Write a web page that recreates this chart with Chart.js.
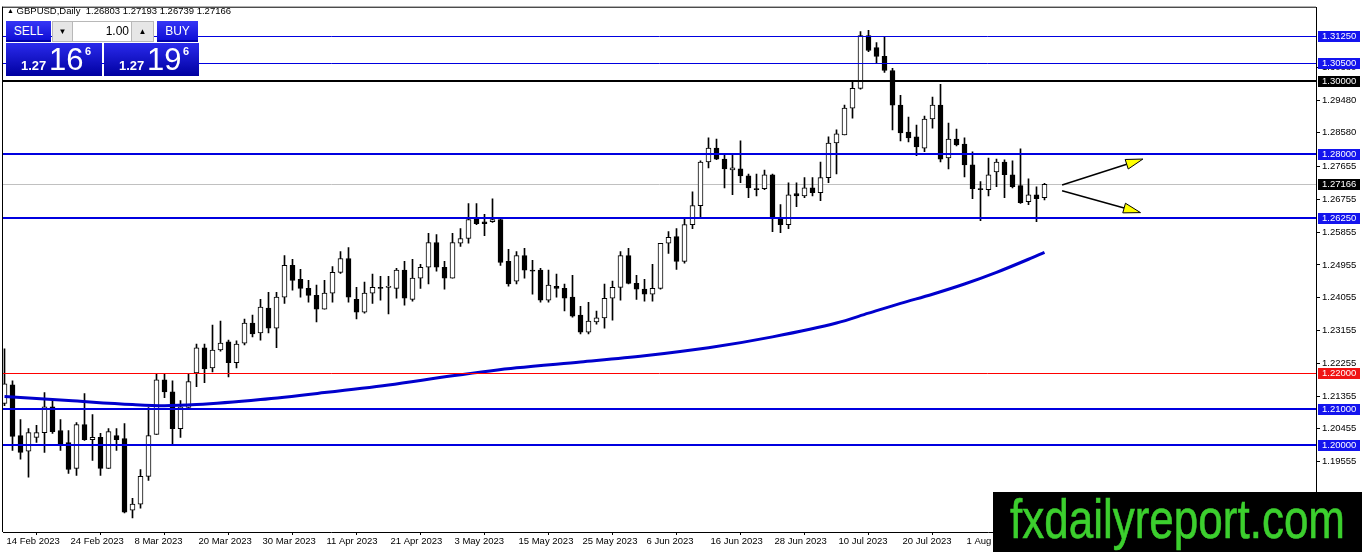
<!DOCTYPE html>
<html>
<head>
<meta charset="utf-8">
<title>GBPUSD,Daily</title>
<script src="https://cdn.jsdelivr.net/npm/chart.js@4.4.0/dist/chart.umd.min.js"></script>
<style>
  html, body { margin: 0; padding: 0; background: #fff; }
  #wrap { position: relative; width: 1362px; height: 552px; overflow: hidden;
          font-family: "Liberation Sans", Arial, sans-serif; }
  #c { position: absolute; left: 0; top: 0; }
  #hdr { position: absolute; left: 7px; top: 5px; font-size: 9.5px; line-height: 12px; color: #000; white-space: pre; }
  #hdr .tri { font-size: 7px; vertical-align: 1px; }
  .btn { position: absolute; top: 21px; height: 21px; line-height: 20px; text-align: center;
         color: #fff; font-size: 12px; background: linear-gradient(#3636f6, #0b0bd2);
         box-shadow: inset 0 -2px 0 #0000a8; }
  #sell { left: 6px; width: 45px; }
  #buy { left: 157px; width: 41px; }
  #lot { position: absolute; left: 52px; top: 21px; width: 102px; height: 21px; background: #b8b8b8; }
  #lot div { position: absolute; top: 1px; height: 19px; line-height: 19px; font-size: 12px; color: #000; }
  #dn { left: 1px; width: 19px; background: #e6e6e6; text-align: center; font-size: 8px !important; }
  #val { left: 21px; width: 56px; background: #fff; text-align: right; padding-right: 2px; }
  #up { left: 80px; width: 21px; background: #e6e6e6; text-align: center; font-size: 8px !important; }
  .px { position: absolute; top: 43px; height: 33px; color: #fff;
        background: linear-gradient(#2a2aec, #0000a0); }
  #sellpx { left: 6px; width: 96px; }
  #buypx { left: 104px; width: 95px; }
  .px span { position: absolute; line-height: 1; white-space: pre; }
  .px .sm { left: 15px; top: 16px; font-size: 13px; font-weight: bold; }
  .px .big { left: 43px; top: 1px; font-size: 31px; }
  .px .sup { left: 79px; top: 3px; font-size: 11px; font-weight: bold; }
  #logo { position: absolute; left: 993px; top: 492px; width: 369px; height: 60px; background: #000; overflow: hidden; }
  #logo span { position: absolute; left: 17px; top: 0; font-size: 55px; line-height: 1; color: #3ccf2e;
               -webkit-text-stroke: 0.6px #3ccf2e;
               transform: scaleX(0.8); transform-origin: 0 0; white-space: pre; }
</style>
</head>
<body>
<div id="wrap">
  <canvas id="c" width="1362" height="552"></canvas>
  <div id="hdr"></div>
  <div class="btn" id="sell">SELL</div>
  <div id="lot"><div id="dn">▼</div><div id="val">1.00</div><div id="up">▲</div></div>
  <div class="btn" id="buy">BUY</div>
  <div class="px" id="sellpx"><span class="sm"></span><span class="big"></span><span class="sup"></span></div>
  <div class="px" id="buypx"><span class="sm"></span><span class="big"></span><span class="sup"></span></div>
  <div id="logo"><span>fxdailyreport.com</span></div>
</div>
<script>
// daily candles, 14 Feb 2023 .. 15 Aug 2023
const opens = [
  1.2115, 1.2166, 1.2027, 1.1984, 1.2022, 1.2035, 1.2106, 1.2041, 1.2008, 1.1937,
  1.2057, 1.2016, 1.2022, 1.1937, 1.2027, 1.2019, 1.1822, 1.1839, 1.1915, 1.2030,
  1.2180, 1.2147, 1.2046, 1.2104, 1.2199, 1.2268, 1.2213, 1.2262, 1.2284, 1.2227,
  1.2281, 1.2336, 1.2309, 1.2377, 1.2322, 1.2407, 1.2494, 1.2456, 1.2431, 1.2412,
  1.2374, 1.2418, 1.2475, 1.2513, 1.2401, 1.2366, 1.2418, 1.2434, 1.2434, 1.2431,
  1.2481, 1.2401, 1.2459, 1.2489, 1.2557, 1.2489, 1.2459, 1.2555, 1.2568, 1.2625,
  1.2614, 1.2614, 1.2620, 1.2505, 1.2451, 1.2521, 1.2481, 1.2481, 1.2399, 1.2437,
  1.2431, 1.2407, 1.2358, 1.2311, 1.2339, 1.2350, 1.2404, 1.2434, 1.2521, 1.2445,
  1.2429, 1.2415, 1.2431, 1.2555, 1.2573, 1.2505, 1.2606, 1.2658, 1.2778, 1.2816,
  1.2786, 1.2756, 1.2759, 1.2740, 1.2705, 1.2705, 1.2743, 1.2625, 1.2606, 1.2691,
  1.2685, 1.2707, 1.2694, 1.2735, 1.2830, 1.2852, 1.2926, 1.2980, 1.3125, 1.3092,
  1.3068, 1.3029, 1.2934, 1.2860, 1.2847, 1.2816, 1.2896, 1.2934, 1.2789, 1.2841,
  1.2827, 1.2770, 1.2705, 1.2702, 1.2751, 1.2778, 1.2743, 1.2713, 1.2669, 1.2688,
  1.26803
];
const highs = [
  1.2265, 1.2177, 1.2071, 1.2046, 1.2055, 1.2145, 1.2126, 1.2071, 1.2041, 1.2063,
  1.2142, 1.2085, 1.2033, 1.2046, 1.2046, 1.2060, 1.1855, 1.1934, 1.2104, 1.2197,
  1.2197, 1.2177, 1.2123, 1.2197, 1.2278, 1.2278, 1.2330, 1.2341, 1.2289, 1.2287,
  1.2347, 1.2358, 1.2401, 1.2420, 1.2420, 1.2521, 1.2511, 1.2483, 1.2453, 1.2440,
  1.2453, 1.2491, 1.2532, 1.2543, 1.2434, 1.2448, 1.2470, 1.2464, 1.2464, 1.2486,
  1.2505, 1.2511, 1.2497, 1.2582, 1.2579, 1.2505, 1.2582, 1.2595, 1.2664, 1.2664,
  1.2634, 1.2677, 1.2623, 1.2538, 1.2532, 1.2541, 1.2508, 1.2486, 1.2481, 1.2470,
  1.2443, 1.2467, 1.2382, 1.2393, 1.2369, 1.2443, 1.2451, 1.2532, 1.2541, 1.2467,
  1.2456, 1.2497, 1.2555, 1.2587, 1.2595, 1.2623, 1.2696, 1.2781, 1.2844, 1.2841,
  1.2800, 1.2797, 1.2836, 1.2745, 1.2745, 1.2756, 1.2745, 1.2661, 1.2721, 1.2721,
  1.2735, 1.2735, 1.2778, 1.2847, 1.2866, 1.2934, 1.2997, 1.3136, 1.3139, 1.3106,
  1.3120, 1.3035, 1.2961, 1.2901, 1.2879, 1.2904, 1.2956, 1.2991, 1.2885, 1.2868,
  1.2844, 1.2806, 1.2724, 1.2789, 1.2786, 1.2784, 1.2781, 1.2814, 1.2732, 1.2710,
  1.27193
];
const lows = [
  1.2109, 1.1986, 1.1962, 1.1913, 1.2008, 1.1981, 1.2033, 1.1986, 1.1923, 1.1918,
  1.2014, 1.1959, 1.1918, 1.1937, 1.1986, 1.1815, 1.1801, 1.1828, 1.1904, 1.2030,
  1.2131, 1.2005, 1.2022, 1.2104, 1.2161, 1.2172, 1.2202, 1.2259, 1.2188, 1.2213,
  1.2276, 1.2298, 1.2289, 1.2309, 1.2268, 1.2390, 1.2426, 1.2407, 1.2393, 1.2339,
  1.2374, 1.2393, 1.2472, 1.2393, 1.2347, 1.2363, 1.2390, 1.2399, 1.2361, 1.2404,
  1.2385, 1.2396, 1.2431, 1.2443, 1.2478, 1.2429, 1.2459, 1.2546, 1.2555, 1.2606,
  1.2576, 1.2612, 1.2494, 1.2437, 1.2443, 1.2459, 1.2415, 1.2393, 1.2393, 1.2407,
  1.2369, 1.2352, 1.2306, 1.2306, 1.2333, 1.2322, 1.2344, 1.2399, 1.2443, 1.2401,
  1.2396, 1.2396, 1.2429, 1.2527, 1.2483, 1.2500, 1.2595, 1.2623, 1.2762, 1.2784,
  1.2707, 1.2688, 1.2721, 1.2680, 1.2685, 1.2702, 1.2587, 1.2584, 1.2595, 1.2655,
  1.2680, 1.2685, 1.2672, 1.2721, 1.2745, 1.2852, 1.2898, 1.2978, 1.3081, 1.3049,
  1.3024, 1.2866, 1.2836, 1.2833, 1.2795, 1.2806, 1.2871, 1.2778, 1.2759, 1.2822,
  1.2737, 1.2677, 1.2617, 1.2685, 1.2710, 1.2680, 1.2707, 1.2664, 1.2661, 1.2614,
  1.26739
];
const closes = [
  1.2169, 1.2025, 1.1981, 1.2035, 1.2035, 1.2106, 1.2038, 1.2005, 1.1934, 1.2057,
  1.2016, 1.2022, 1.1937, 1.2038, 1.2016, 1.1817, 1.1839, 1.1915, 1.2027, 1.2180,
  1.2147, 1.2046, 1.2106, 1.2175, 1.2268, 1.2210, 1.2262, 1.2281, 1.2227, 1.2278,
  1.2336, 1.2306, 1.2380, 1.2322, 1.2407, 1.2494, 1.2453, 1.2431, 1.2412, 1.2374,
  1.2418, 1.2475, 1.2513, 1.2407, 1.2366, 1.2418, 1.2434, 1.2431, 1.2437, 1.2481,
  1.2404, 1.2459, 1.2489, 1.2557, 1.2489, 1.2459, 1.2557, 1.2568, 1.2620, 1.2609,
  1.2609, 1.2620, 1.2502, 1.2443, 1.2521, 1.2481, 1.2478, 1.2399, 1.2440, 1.2431,
  1.2404, 1.2355, 1.2311, 1.2341, 1.2350, 1.2404, 1.2434, 1.2521, 1.2445, 1.2429,
  1.2415, 1.2431, 1.2555, 1.2571, 1.2505, 1.2606, 1.2658, 1.2778, 1.2816, 1.2786,
  1.2759, 1.2762, 1.2740, 1.2707, 1.2702, 1.2743, 1.2625, 1.2606, 1.2688, 1.2685,
  1.2707, 1.2694, 1.2735, 1.2830, 1.2855, 1.2926, 1.2980, 1.3125, 1.3084, 1.3068,
  1.3029, 1.2934, 1.2858, 1.2844, 1.2819, 1.2896, 1.2934, 1.2786, 1.2841, 1.2825,
  1.2770, 1.2705, 1.2702, 1.2743, 1.2778, 1.2743, 1.2710, 1.2666, 1.2688, 1.2677,
  1.27166
];

// moving average, read at every 4th-8th bar
const maIndex = [0, 8, 16, 20, 24, 32, 40, 48, 56, 64, 72, 80, 88, 96, 104, 108, 112, 116, 120, 124, 128, 130];
const maValues = [1.2134, 1.2123, 1.2112, 1.2109, 1.2112, 1.2126, 1.2145, 1.2166, 1.2191, 1.2213, 1.2229,
                  1.2246, 1.2268, 1.2298, 1.2336, 1.2363, 1.2390, 1.2415, 1.2443, 1.2475, 1.2511, 1.2530];

// date labels, one every 8 bars
const labelStep = 8;
const dateLabels = ["14 Feb 2023", "24 Feb 2023", "8 Mar 2023", "20 Mar 2023", "30 Mar 2023", "11 Apr 2023",
                    "21 Apr 2023", "3 May 2023", "15 May 2023", "25 May 2023", "6 Jun 2023", "16 Jun 2023",
                    "28 Jun 2023", "10 Jul 2023", "20 Jul 2023", "1 Aug 2023", "11 Aug 2023"];

// price scale labels
const priceTicks = [1.30380, 1.29480, 1.28580, 1.27655, 1.26755, 1.25855, 1.24955, 1.24055,
                    1.23155, 1.22255, 1.21355, 1.20455, 1.19555];

// horizontal levels drawn on the chart
const levelPrices = [1.3125, 1.3050, 1.3000, 1.2800, 1.2625, 1.2200, 1.2100, 1.2000];
const levelColors = ['#0000e0', '#0000e0', '#000000', '#0000e0', '#0000e0', '#ff0000', '#0000e0', '#0000e0'];
const levelBoxColors = ['#1414ee', '#1414ee', '#000000', '#1414ee', '#1414ee', '#f01414', '#1414ee', '#1414ee'];
const levelWidths = [1, 1, 2, 2, 2, 1, 2, 2];

// the two scenario arrows: [bar from, price from, bar to, price to]
const arrowUp = [132.2, 1.2715, 142.3, 1.2786];
const arrowDown = [132.2, 1.2699, 142.0, 1.2639];

const spread = 0.0003;
const bid = closes[closes.length - 1];
const ask = bid + spread;

// header and trade panel texts
const last = closes.length - 1;
document.getElementById('hdr').innerHTML = '<span class="tri">▲</span> GBPUSD,Daily  ' +
  [opens[last], highs[last], lows[last], closes[last]].map(v => v.toFixed(5)).join(' ');
function fillPrice(id, p) {
  const s = p.toFixed(5);
  const el = document.getElementById(id);
  el.querySelector('.sm').textContent = s.slice(0, 4);
  el.querySelector('.big').textContent = s.slice(4, 6);
  el.querySelector('.sup').textContent = s.slice(6);
}
fillPrice('sellpx', bid);
fillPrice('buypx', ask);

const FONT = { family: '"Liberation Sans", Arial, sans-serif', size: 9.5 };

const wicks = opens.map((o, i) => ({ x: i, y: [lows[i], highs[i]] }));
const bodies = opens.map((o, i) => ({ x: i, y: [Math.min(o, closes[i]), Math.max(o, closes[i])] }));
const maLine = maIndex.map((x, k) => ({ x: x, y: maValues[k] }));

function drawArrow(ctx, xs, ys, a) {
  const x0 = xs.getPixelForValue(a[0]), y0 = ys.getPixelForValue(a[1]);
  const x1 = xs.getPixelForValue(a[2]), y1 = ys.getPixelForValue(a[3]);
  const ang = Math.atan2(y1 - y0, x1 - x0);
  const len = 17, half = 5;
  const bx = x1 - len * Math.cos(ang), by = y1 - len * Math.sin(ang);
  ctx.strokeStyle = '#000';
  ctx.lineWidth = 1.5;
  ctx.beginPath();
  ctx.moveTo(x0, y0);
  ctx.lineTo(bx, by);
  ctx.stroke();
  ctx.beginPath();
  ctx.moveTo(x1, y1);
  ctx.lineTo(bx + half * Math.sin(ang), by - half * Math.cos(ang));
  ctx.lineTo(bx - half * Math.sin(ang), by + half * Math.cos(ang));
  ctx.closePath();
  ctx.fillStyle = '#ffff00';
  ctx.fill();
  ctx.lineWidth = 1;
  ctx.stroke();
}

const overlay = {
  id: 'overlay',
  beforeDatasetsDraw(chart) {
    const { ctx, chartArea: a, scales: { y } } = chart;
    const py = Math.round(y.getPixelForValue(bid)) + 0.5;
    ctx.save();
    ctx.strokeStyle = '#c0c0c0';
    ctx.lineWidth = 1;
    ctx.beginPath();
    ctx.moveTo(a.left, py);
    ctx.lineTo(a.right, py);
    ctx.stroke();
    ctx.restore();
  },
  afterDatasetsDraw(chart) {
    const { ctx, chartArea: a, scales: { x, y } } = chart;
    ctx.save();
    levelPrices.forEach((p, k) => {
      const w = levelWidths[k];
      const py = Math.round(y.getPixelForValue(p)) + (w % 2 ? 0.5 : 0);
      ctx.strokeStyle = levelColors[k];
      ctx.lineWidth = w;
      ctx.beginPath();
      ctx.moveTo(a.left, py);
      ctx.lineTo(a.right, py);
      ctx.stroke();
    });
    drawArrow(ctx, x, y, arrowUp);
    drawArrow(ctx, x, y, arrowDown);
    ctx.restore();
  },
  afterDraw(chart) {
    const { ctx, chartArea: a, scales: { y } } = chart;
    ctx.save();
    // frame
    ctx.fillStyle = '#000';
    ctx.fillRect(a.left - 1, a.top - 1, a.right - a.left + 1, 1);
    ctx.fillRect(a.left - 1, a.top - 1, 1, a.bottom - a.top + 1);
    // price boxes on the scale
    ctx.font = '9.5px "Liberation Sans", Arial, sans-serif';
    ctx.textBaseline = 'middle';
    ctx.textAlign = 'left';
    const boxes = levelPrices.map((p, k) => [p, levelBoxColors[k]]).concat([[bid, '#000000']]);
    boxes.forEach(([p, col]) => {
      const py = Math.round(y.getPixelForValue(p));
      ctx.fillStyle = col;
      ctx.fillRect(a.right + 2, py - 5, 42, 11);
      ctx.fillStyle = '#fff';
      ctx.fillText(p.toFixed(5), a.right + 6, py + 0.5);
    });
    ctx.restore();
  }
};

new Chart(document.getElementById('c'), {
  type: 'bar',
  data: {
    datasets: [
      {
        type: 'line',
        data: maLine,
        borderColor: '#0000cd',
        borderWidth: 3,
        pointRadius: 0,
        cubicInterpolationMode: 'monotone',
        order: 0
      },
      {
        data: bodies,
        backgroundColor: c => closes[c.dataIndex] >= opens[c.dataIndex] ? '#ffffff' : '#000000',
        borderColor: '#000000',
        borderWidth: 1,
        borderSkipped: false,
        barThickness: 5,
        minBarLength: 1,
        grouped: false,
        order: 1
      },
      {
        data: wicks,
        backgroundColor: '#000000',
        barThickness: 1,
        grouped: false,
        order: 2
      }
    ]
  },
  options: {
    responsive: false,
    animation: false,
    devicePixelRatio: 1,
    events: [],
    layout: { padding: { left: 3, top: 5, right: 0, bottom: 0 } },
    plugins: { legend: { display: false }, tooltip: { enabled: false } },
    scales: {
      x: {
        type: 'linear',
        offset: false,
        bounds: 'data',
        min: -0.1875,
        max: 163.9375,
        afterBuildTicks: s => { s.ticks = dateLabels.map((_, k) => ({ value: k * labelStep })); },
        afterFit: s => { s.height = 20; },
        ticks: {
          callback: v => dateLabels[Math.round(v / labelStep)] || '',
          align: 'start',
          labelOffset: 2,
          maxRotation: 0,
          autoSkip: false,
          padding: 1,
          color: '#000',
          font: FONT
        },
        grid: { drawOnChartArea: false, drawTicks: true, tickLength: 3, color: '#000' },
        border: { color: '#000' }
      },
      y: {
        position: 'right',
        bounds: 'data',
        min: 1.17623676,
        max: 1.32014465,
        afterBuildTicks: s => { s.ticks = priceTicks.map(v => ({ value: v })); },
        afterFit: s => { s.width = 46; },
        ticks: { callback: v => v.toFixed(5), padding: 2, color: '#000', font: FONT },
        grid: { drawOnChartArea: false, drawTicks: true, tickLength: 4, color: '#000' },
        border: { color: '#000' }
      }
    }
  },
  plugins: [overlay]
});
</script>
</body>
</html>
